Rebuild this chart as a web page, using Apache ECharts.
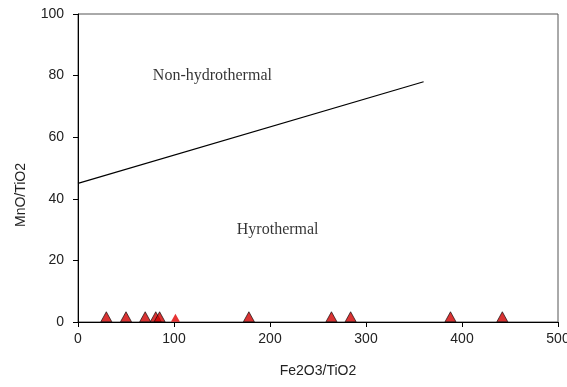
<!DOCTYPE html>
<html>
<head>
<meta charset="UTF-8">
<title>MnO/TiO2 vs Fe2O3/TiO2</title>
<script src="https://cdn.jsdelivr.net/npm/echarts@6/dist/echarts.min.js"></script>
<style>
html,body{margin:0;padding:0;background:#fff;}
#chart{width:567px;height:387px;}
</style>
</head>
<body>
<div id="chart"></div>
<script type="text/javascript">
// sample points (Fe2O3/TiO2, MnO/TiO2)
var sampleX = [29.5, 50, 70, 81, 85, 178, 264, 284, 388, 442];
var sampleY = [1.7, 1.7, 1.7, 1.7, 1.7, 1.7, 1.7, 1.7, 1.7, 1.7];
// the lone plain red one
var extraX = [101.5];
var extraY = [1.4];
// boundary line
var lineX = [0, 360];
var lineY = [45, 78];
// field names
var fieldNames = ['Non-hydrothermal', 'Hyrothermal'];
var fieldX = [140, 208];
var fieldY = [80, 30];

function pairs(xs, ys) {
	var out = [];
	for (var i = 0; i < xs.length; i++) out.push([xs[i], ys[i]]);
	return out;
}

var fields = [];
for (var i = 0; i < fieldNames.length; i++) {
	fields.push({value: [fieldX[i], fieldY[i]], name: fieldNames[i]});
}

var chart = echarts.init(document.getElementById('chart'));
chart.setOption({
	animation: false,
	grid: {left: 78, right: 9, top: 14, bottom: 65, outerBoundsMode: 'none', show: true, borderColor: '#555', borderWidth: 1},
	xAxis: {
		type: 'value', min: 0, max: 500, interval: 100,
		name: 'Fe2O3/TiO2', nameLocation: 'middle', nameGap: 42,
		nameTextStyle: {fontFamily: 'Liberation Sans', fontSize: 14, color: '#222'},
		axisLine: {lineStyle: {color: '#000'}},
		axisTick: {length: 5, lineStyle: {color: '#000'}},
		axisLabel: {fontFamily: 'Liberation Sans', fontSize: 14, color: '#222', margin: 10},
		splitLine: {show: false}
	},
	yAxis: {
		type: 'value', min: 0, max: 100, interval: 20,
		name: 'MnO/TiO2', nameLocation: 'middle', nameGap: 50,
		nameTextStyle: {fontFamily: 'Liberation Sans', fontSize: 14, color: '#222', padding: [0, 0, 0, -54]},
		axisLine: {lineStyle: {color: '#000'}},
		axisTick: {length: 5, lineStyle: {color: '#000'}},
		axisLabel: {fontFamily: 'Liberation Sans', fontSize: 14, color: '#222', margin: 14},
		splitLine: {show: false}
	},
	series: [
		{
			type: 'line', data: pairs(lineX, lineY), symbol: 'none',
			lineStyle: {color: '#000', width: 1.2}
		},
		{
			type: 'scatter', data: pairs(sampleX, sampleY), symbol: 'triangle', symbolSize: [11, 10],
			itemStyle: {color: '#d00000', borderColor: '#000', borderWidth: 0.8}
		},
		{
			type: 'scatter', data: pairs(extraX, extraY), symbol: 'triangle', symbolSize: [9, 8],
			itemStyle: {color: '#e00000'}
		},
		{
			type: 'scatter', data: fields, symbolSize: 0, silent: true,
			label: {
				show: true, position: 'inside', formatter: '{b}',
				fontFamily: 'Liberation Serif', fontSize: 16, color: '#000'
			}
		}
	]
});
</script>
</body>
</html>
